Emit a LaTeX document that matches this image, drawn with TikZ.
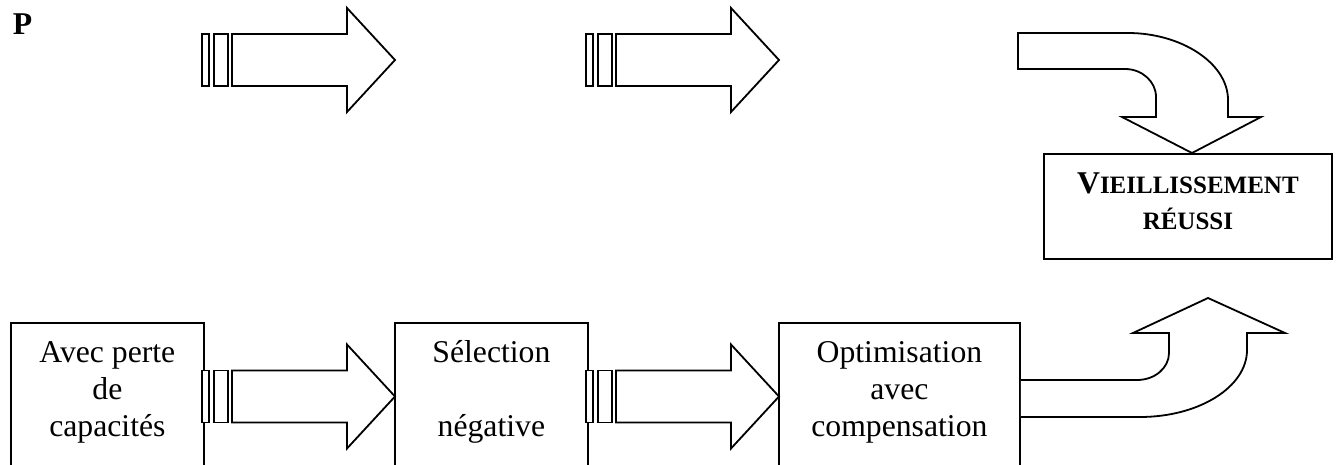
\documentclass[tikz,border=0pt]{standalone}
\usepackage{fontspec}
\setmainfont{Liberation Serif}
\newcommand\bstrut{\rule[-12.6pt]{0pt}{35.6pt}}
\tikzset{
  every path/.style={line width=1.8pt, line join=miter},
  box/.style={draw, line width=1.8pt, inner sep=0pt, align=center, anchor=north west,
    font=\fontsize{31.7}{36.7}\selectfont},
  shapeline/.style={draw, line width=1.8pt, fill=white},
  blockarrow/.pic={
    \draw[shapeline] (0,-26) rectangle (7,26);
    \draw[shapeline] (12,-26) rectangle (26,26);
    \draw[shapeline] (30,-26) -- (145,-26) -- (145,-52) -- (193,0) -- (145,52) -- (145,26) -- (30,26) -- cycle;
  }
}
\begin{document}
\begin{tikzpicture}[x=1pt, y=-1pt]
\useasboundingbox (0,0) rectangle (1338,465);

\node[anchor=base west, inner sep=0pt, font=\bfseries\fontsize{31.7}{36.7}\selectfont] (p) at (12,35) {P};

% boxes
\node[box, minimum width=193, minimum height=143] (b1) at (10,322)
  {\bstrut Avec perte\\\bstrut de\\\bstrut capacités};
\node[box, minimum width=193, minimum height=143] (b2) at (394,322)
  {\bstrut Sélection\\\bstrut\\\bstrut négative};
\node[box, minimum width=241, minimum height=143] (b3) at (778,322)
  {\bstrut Optimisation\\\bstrut avec\\\bstrut compensation};
\node[box, minimum width=288, minimum height=105, font=\bfseries\fontsize{31.7}{36.7}\selectfont] (v) at (1043,153)
  {\bstrut V{\fontsize{25}{36.7}\selectfont IEILLISSEMENT}\\\bstrut{\fontsize{25}{36.7}\selectfont RÉUSSI}};

% straight block arrows
\pic at (202,60) {blockarrow};
\pic at (586,60) {blockarrow};
\pic at (202,396.5) {blockarrow};
\pic at (586,396.5) {blockarrow};

% top bent arrow (down into the box)
\draw[shapeline] (1018,33) -- (1128,33)
  .. controls (1181,33) and (1228,63) .. (1228,100)
  -- (1228,117) -- (1261,117) -- (v.north -| 1192,0) -- (1122,117) -- (1156,117) -- (1156,97)
  .. controls (1156,81.5) and (1142,69) .. (1125,69)
  -- (1018,69) -- cycle;

% bottom bent arrow (up from box 3)
\draw[shapeline] (b3.east |- 0,380) -- (1137,380)
  .. controls (1154.7,380) and (1169,368) .. (1169,353)
  -- (1169,333) -- (1133,333) -- (1208,298) -- (1285,333) -- (1247,333) -- (1247,350)
  .. controls (1247,387) and (1199,417) .. (1140,417)
  -- (b3.east |- 0,417);
\end{tikzpicture}
\end{document}
